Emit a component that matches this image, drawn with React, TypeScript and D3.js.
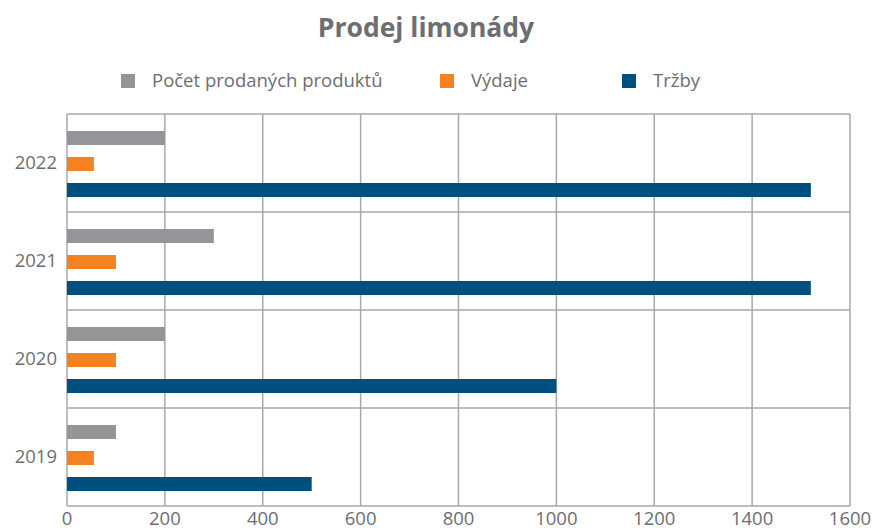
import React, { useEffect, useRef } from 'react';
import * as d3 from 'd3';

const years = ['2022', '2021', '2020', '2019'];
const seriesNames = ['Počet prodaných produktů', 'Výdaje', 'Tržby'];
const produkty = [200, 300, 200, 100];
const vydaje = [55, 100, 100, 55];
const trzby = [1520, 1520, 1000, 500];
const xTicks = [0, 200, 400, 600, 800, 1000, 1200, 1400, 1600];
const colors = ['#939598', '#f58220', '#00507f'];

const App: React.FC = () => {
  const svgRef = useRef<SVGSVGElement | null>(null);

  useEffect(() => {
    if (!svgRef.current) return;
    const width = 875;
    const height = 530;
    const font = '"Open Sans", sans-serif';
    const textColor = '#6d6e71';
    const gridColor = '#a7a9ac';
    const fs = 18.5;

    const svg = d3.select(svgRef.current);
    svg.selectAll('*').remove();
    svg.attr('width', width).attr('height', height);

    const x = d3.scaleLinear().domain([0, 1600]).range([67, 850]);
    const y = d3.scaleBand().domain(years).range([114, 506]).padding(0);
    const inner = d3.scaleBand()
      .domain(seriesNames)
      .range([17, 83])
      .paddingInner(12 / 26)
      .paddingOuter(0);

    const values = [produkty, vydaje, trzby];

    // grid: vertical lines
    svg.append('g')
      .selectAll('line')
      .data(xTicks)
      .join('line')
      .attr('x1', d => x(d))
      .attr('x2', d => x(d))
      .attr('y1', 114)
      .attr('y2', 506)
      .attr('stroke', gridColor)
      .attr('stroke-width', 1.5);

    // grid: horizontal lines at band edges
    const edges = years.map(d => y(d)!).concat([506]);
    svg.append('g')
      .selectAll('line')
      .data(edges)
      .join('line')
      .attr('x1', 67)
      .attr('x2', 850)
      .attr('y1', d => d)
      .attr('y2', d => d)
      .attr('stroke', gridColor)
      .attr('stroke-width', 1.5);

    // bars
    seriesNames.forEach((name, si) => {
      svg.append('g')
        .attr('fill', colors[si])
        .selectAll('rect')
        .data(years)
        .join('rect')
        .attr('x', x(0))
        .attr('y', d => y(d)! + inner(name)!)
        .attr('width', (d, i) => x(values[si][i]) - x(0))
        .attr('height', inner.bandwidth());
    });

    // y labels
    svg.append('g')
      .attr('font-family', font)
      .attr('font-size', fs)
      .attr('fill', textColor)
      .attr('text-anchor', 'end')
      .selectAll('text')
      .data(years)
      .join('text')
      .attr('x', 57)
      .attr('y', d => y(d)! + y.bandwidth() / 2)
      .attr('dy', '0.35em')
      .text(d => d);

    // x labels
    svg.append('g')
      .attr('font-family', font)
      .attr('font-size', fs)
      .attr('fill', textColor)
      .attr('text-anchor', 'middle')
      .selectAll('text')
      .data(xTicks)
      .join('text')
      .attr('x', d => x(d))
      .attr('y', 525)
      .text(d => d);

    // title
    svg.append('text')
      .attr('x', 426)
      .attr('y', 37)
      .attr('text-anchor', 'middle')
      .attr('font-family', font)
      .attr('font-weight', 'bold')
      .attr('font-size', 26.5)
      .attr('fill', textColor)
      .text('Prodej limonády');

    // legend
    const legendX = [121, 440, 622];
    const legend = svg.append('g')
      .selectAll('g')
      .data(seriesNames)
      .join('g')
      .attr('transform', (d, i) => `translate(${legendX[i]},74)`);
    legend.append('rect')
      .attr('width', 14)
      .attr('height', 14)
      .attr('fill', (d, i) => colors[i]);
    legend.append('text')
      .attr('x', 31)
      .attr('y', 7)
      .attr('dy', '0.35em')
      .attr('font-family', font)
      .attr('font-size', fs)
      .attr('fill', textColor)
      .text(d => d);
  }, []);

  return <svg ref={svgRef} style={{ position: 'absolute', left: 0, top: 0 }}></svg>;
};

export default App;
